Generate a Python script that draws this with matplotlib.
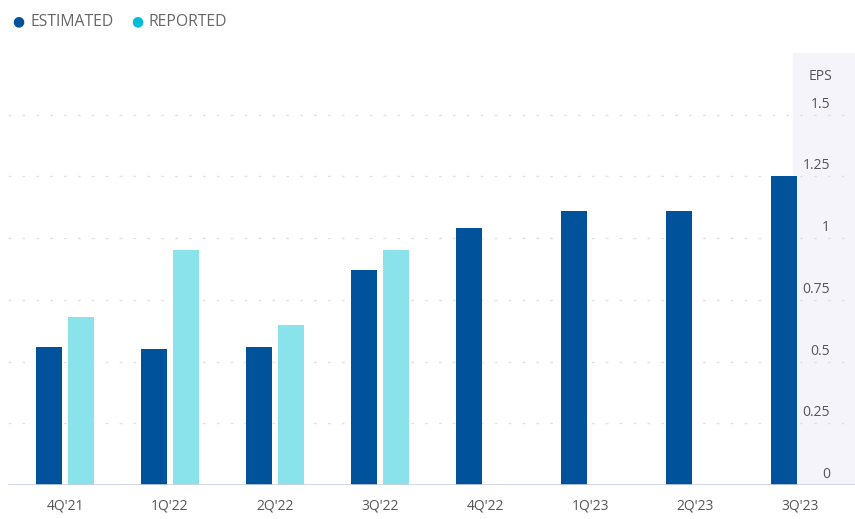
import matplotlib.pyplot as plt
import matplotlib.transforms as mtransforms
import numpy as np

quarters = ["4Q'21", "1Q'22", "2Q'22", "3Q'22", "4Q'22", "1Q'23", "2Q'23", "3Q'23"]
estimated = [0.56, 0.55, 0.56, 0.87, 1.04, 1.11, 1.11, 1.25]
reported = [0.68, 0.95, 0.65, 0.95, None, None, None, None]
y_ticks = [0, 0.25, 0.5, 0.75, 1, 1.25, 1.5]
y_tick_labels = ['0', '0.25', '0.5', '0.75', '1', '1.25', '1.5']

est_color = '#00529b'
rep_color = '#8ae2ea'
rep_dot = '#00bcd4'
text_color = '#555555'

plt.rcParams['font.family'] = ['Open Sans', 'DejaVu Sans']

fig = plt.figure(figsize=(8.55, 5.19), dpi=100)
ax = fig.add_axes([8 / 855, 1 - 485 / 519, 1 - 8 / 855, (485 - 53) / 519])

x = np.arange(len(quarters))
w = 0.25
ax.bar(x - 0.15, estimated, width=w, color=est_color, zorder=3)
rx = [xi + 0.15 for xi, v in zip(x, reported) if v is not None]
rv = [v for v in reported if v is not None]
ax.bar(rx, rv, width=w, color=rep_color, zorder=3)

# shaded band behind the value labels
ax.axvspan(6.93, 7.6, color='#f4f4fa', zorder=0)

ax.set_xlim(-0.543, 7.523)
ax.set_ylim(0, 1.75)

for yt in y_ticks[1:]:
    ax.axhline(yt, color='#e2e2e2', linewidth=1, linestyle=(0, (2, 8)), zorder=1)
ax.axhline(0, color='#c8d0e0', linewidth=1.2, zorder=4)

off = mtransforms.offset_copy(ax.transData, fig=fig, x=0, y=3, units='dots')
for yt, lab in zip(y_ticks, y_tick_labels):
    ax.text(7.285, yt, lab, transform=off, ha='right', va='bottom',
            fontsize=10, color=text_color)
ax.text(7.19, 1.655, 'EPS', ha='center', va='center', fontsize=10, color=text_color)

ax.set_xticks(x)
ax.set_xticklabels(quarters, fontsize=10, color=text_color)
ax.tick_params(axis='x', length=0, pad=10)
ax.set_yticks([])
for s in ax.spines.values():
    s.set_visible(False)

# legend
ly = 1 - 22 / 519
fig.text(18 / 855, ly, '\u25cf', color=est_color, fontsize=10, ha='center', va='center')
fig.text(30 / 855, ly, 'ESTIMATED', color='#666666', fontsize=11.3, ha='left', va='center')
fig.text(137 / 855, ly, '\u25cf', color=rep_dot, fontsize=10, ha='center', va='center')
fig.text(148 / 855, ly, 'REPORTED', color='#666666', fontsize=11.3, ha='left', va='center')

fig.savefig('out.png', dpi=100)
